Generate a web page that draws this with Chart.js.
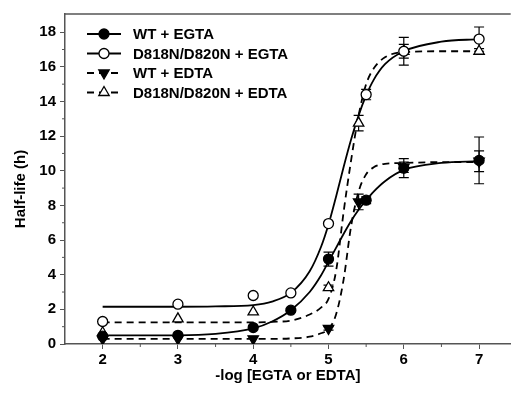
<!DOCTYPE html>
<html>
<head>
<meta charset="utf-8">
<script src="https://cdn.jsdelivr.net/npm/chart.js"></script>
<style>
  html, body { margin: 0; padding: 0; background: #fff; }
  #wrap { width: 518px; height: 394px; }
</style>
</head>
<body>
<div id="wrap"><canvas id="halfLifeChart"></canvas></div>
<script>
// measured points (x = -log[chelator], y = half-life in h)
const wtEgtaX = [2, 3, 4, 4.5, 5, 5.5, 6, 7];
const wtEgtaY = [0.45, 0.5, 0.95, 1.95, 4.9, 8.3, 10.15, 10.6];
const wtEgtaErr = [0, 0, 0, 0.1, 0.4, 0.2, 0.55, 1.35];

const mutEgtaX = [2, 3, 4, 4.5, 5, 5.5, 6, 7];
const mutEgtaY = [1.3, 2.3, 2.8, 2.95, 6.95, 14.4, 16.9, 17.6];
const mutEgtaErr = [0, 0, 0, 0, 0, 0.3, 0.8, 0.7];

const wtEdtaX = [2, 3, 4, 5, 5.4, 6, 7];
const wtEdtaY = [0.3, 0.3, 0.3, 0.9, 8.2, 10.2, 10.55];
const wtEdtaErr = [0, 0, 0, 0.1, 0.45, 0.3, 0.6];

const mutEdtaX = [2, 3, 4, 5, 5.4, 6, 7];
const mutEdtaY = [0.65, 1.45, 1.85, 3.25, 12.75, 16.9, 16.9];
const mutEdtaErr = [0, 0, 0, 0.15, 0.45, 0.4, 0.15];

// fitted curves
const fitX = [2, 3, 3.5, 4, 4.25, 4.5, 4.75, 4.9, 5, 5.1, 5.2, 5.3, 5.4, 5.5, 5.6, 5.75, 6, 6.5, 7];
const wtEgtaFit  = [0.5, 0.5, 0.58, 0.9, 1.3, 1.95, 3.0, 3.95, 4.75, 5.55, 6.35, 7.1, 7.75, 8.3, 8.8, 9.4, 10.05, 10.45, 10.55];
const mutEgtaFit = [2.15, 2.15, 2.17, 2.25, 2.45, 2.95, 4.2, 5.6, 6.9, 8.5, 10.2, 11.8, 13.2, 14.35, 15.25, 16.15, 16.9, 17.45, 17.6];
const wtEdtaFit  = [0.3, 0.3, 0.3, 0.3, 0.3, 0.32, 0.42, 0.62, 0.85, 1.7, 3.7, 6.8, 8.8, 9.8, 10.2, 10.4, 10.45, 10.5, 10.5];
const mutEdtaFit = [1.25, 1.25, 1.25, 1.25, 1.28, 1.35, 1.7, 2.1, 2.6, 4.2, 7.6, 10.6, 13.2, 15.0, 15.9, 16.55, 16.85, 16.9, 16.9];

const xTicks = [2, 3, 4, 5, 6, 7];
const xMinor = [2.5, 3.5, 4.5, 5.5, 6.5];
const yTicks = [0, 2, 4, 6, 8, 10, 12, 14, 16, 18];
const yMinor = [1, 3, 5, 7, 9, 11, 13, 15, 17];

const seriesNames = ['WT + EGTA', 'D818N/D820N + EGTA', 'WT + EDTA', 'D818N/D820N + EDTA'];

const FONT = 'Arial, "Liberation Sans", sans-serif';
const AXIS = '#555';

function pts(xs, ys) {
    return xs.map((x, i) => ({ x: x, y: ys[i] }));
}

const markers = [
    { pointStyle: 'circle', rotation: 0, radius: 5, fill: '#000' },
    { pointStyle: 'circle', rotation: 0, radius: 5, fill: '#fff' },
    { pointStyle: 'triangle', rotation: 180, radius: 6, fill: '#000' },
    { pointStyle: 'triangle', rotation: 0, radius: 6, fill: '#fff' }
];
const dashes = [[], [], [7, 5], [7, 5]];

const pointSets = [
    { xs: wtEgtaX, ys: wtEgtaY, err: wtEgtaErr },
    { xs: mutEgtaX, ys: mutEgtaY, err: mutEgtaErr },
    { xs: wtEdtaX, ys: wtEdtaY, err: wtEdtaErr },
    { xs: mutEdtaX, ys: mutEdtaY, err: mutEdtaErr }
];
const fits = [wtEgtaFit, mutEgtaFit, wtEdtaFit, mutEdtaFit];

const datasets = [];
pointSets.forEach(function(s, i) {
    const m = markers[i];
    datasets.push({
        label: seriesNames[i],
        data: pts(s.xs, s.ys),
        showLine: false,
        pointStyle: m.pointStyle,
        rotation: m.rotation,
        pointRadius: m.radius,
        pointBackgroundColor: m.fill,
        pointBorderColor: '#000',
        pointBorderWidth: 1.3,
        errors: s.err
    });
});
fits.forEach(function(f, i) {
    datasets.push({
        label: seriesNames[i] + ' fit',
        data: pts(fitX, f),
        showLine: true,
        borderColor: '#000',
        borderWidth: 1.8,
        borderDash: dashes[i],
        pointRadius: 0,
        cubicInterpolationMode: 'monotone',
        fill: false
    });
});

const decorPlugin = {
    id: 'decor',
    beforeDatasetsDraw: function(chart) {
        const ctx = chart.ctx;
        const xs = chart.scales.x, ys = chart.scales.y;
        ctx.save();
        ctx.strokeStyle = '#000';
        ctx.lineWidth = 1.2;
        pointSets.forEach(function(s) {
            s.xs.forEach(function(x, i) {
                const e = s.err[i];
                if (!e) return;
                const px = xs.getPixelForValue(x);
                const top = ys.getPixelForValue(s.ys[i] + e);
                const bot = ys.getPixelForValue(s.ys[i] - e);
                ctx.beginPath();
                ctx.moveTo(px, top); ctx.lineTo(px, bot);
                ctx.moveTo(px - 5, top); ctx.lineTo(px + 5, top);
                ctx.moveTo(px - 5, bot); ctx.lineTo(px + 5, bot);
                ctx.stroke();
            });
        });
        ctx.restore();
    },
    afterDraw: function(chart) {
        const ctx = chart.ctx;
        const area = chart.chartArea;
        const xs = chart.scales.x, ys = chart.scales.y;
        ctx.save();
        // top frame line
        ctx.strokeStyle = AXIS;
        ctx.lineWidth = 1.5;
        ctx.beginPath();
        ctx.moveTo(area.left, area.top);
        ctx.lineTo(area.right, area.top);
        ctx.stroke();
        // minor ticks
        ctx.lineWidth = 1;
        ctx.beginPath();
        xMinor.forEach(function(v) {
            const px = xs.getPixelForValue(v);
            ctx.moveTo(px, area.bottom); ctx.lineTo(px, area.bottom + 3);
        });
        yMinor.forEach(function(v) {
            const py = ys.getPixelForValue(v);
            ctx.moveTo(area.left, py); ctx.lineTo(area.left - 3, py);
        });
        ctx.stroke();

        // y title
        ctx.fillStyle = '#000';
        ctx.font = 'bold 15px ' + FONT;
        ctx.textAlign = 'center';
        ctx.textBaseline = 'middle';
        ctx.translate(21, 189);
        ctx.rotate(-Math.PI / 2);
        ctx.fillText('Half-life (h)', 0, 0);
        ctx.restore();

        // legend
        ctx.save();
        const rows = [34, 53.5, 73, 92.5];
        rows.forEach(function(ry, i) {
            ctx.strokeStyle = '#000';
            ctx.lineWidth = 1.8;
            ctx.setLineDash(dashes[i]);
            ctx.beginPath();
            ctx.moveTo(87, ry); ctx.lineTo(121, ry);
            ctx.stroke();
            ctx.setLineDash([]);
            const m = markers[i];
            ctx.fillStyle = m.fill;
            ctx.lineWidth = 1.3;
            Chart.helpers.drawPoint(ctx, {
                pointStyle: m.pointStyle, rotation: m.rotation,
                radius: m.radius, borderWidth: 1.3
            }, 104, ry);
            ctx.fillStyle = '#000';
            ctx.font = 'bold 15px ' + FONT;
            ctx.textAlign = 'left';
            ctx.textBaseline = 'middle';
            ctx.fillText(seriesNames[i], 133, ry + 1);
        });
        ctx.restore();
    }
};

new Chart(document.getElementById('halfLifeChart'), {
    type: 'line',
    data: { datasets: datasets },
    plugins: [decorPlugin],
    options: {
        responsive: true,
        maintainAspectRatio: false,
        animation: false,
        layout: { padding: { left: 0, right: 1, top: 14, bottom: 0 } },
        plugins: {
            legend: { display: false },
            tooltip: { enabled: false }
        },
        scales: {
            x: {
                type: 'linear',
                min: 1.5,
                max: 7.42,
                afterBuildTicks: function(axis) {
                    axis.ticks = xTicks.map(v => ({ value: v }));
                },
                afterFit: function(axis) { axis.height = 50; },
                border: { display: true, color: AXIS, width: 1.5 },
                grid: { drawOnChartArea: false, drawTicks: true, tickLength: 5, color: AXIS, lineWidth: 1 },
                ticks: {
                    padding: 2,
                    color: '#000',
                    font: { family: FONT, size: 15, weight: 'bold' },
                    maxRotation: 0
                },
                title: {
                    display: true,
                    text: '-log [EGTA or EDTA]',
                    color: '#000',
                    font: { family: FONT, size: 15, weight: 'bold' },
                    padding: { top: 0, bottom: 9 }
                }
            },
            y: {
                type: 'linear',
                min: 0,
                max: 19.05,
                afterBuildTicks: function(axis) {
                    axis.ticks = yTicks.map(v => ({ value: v }));
                },
                afterFit: function(axis) { axis.width = 65; },
                border: { display: true, color: AXIS, width: 1.5 },
                grid: { drawOnChartArea: false, drawTicks: true, tickLength: 5, color: AXIS, lineWidth: 1 },
                ticks: {
                    padding: 4,
                    color: '#000',
                    font: { family: FONT, size: 15, weight: 'bold' }
                }
            }
        }
    }
});
</script>
</body>
</html>
